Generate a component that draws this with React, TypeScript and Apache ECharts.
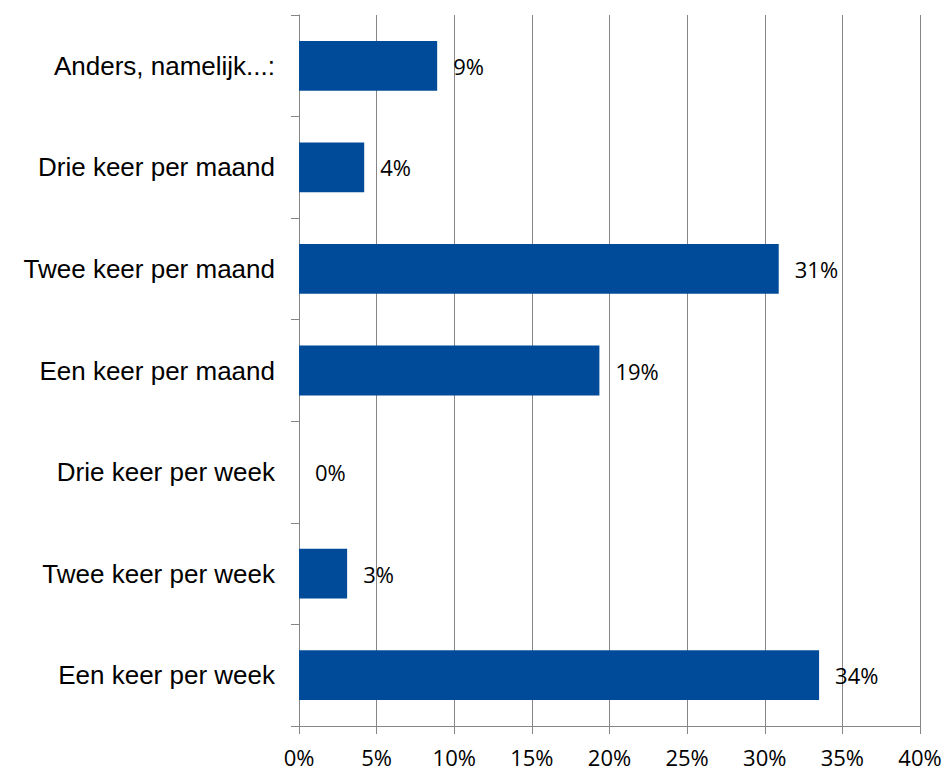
import React, { useEffect, useRef } from "react";
import * as echarts from "echarts";

const categories = [
  "Een keer per week",
  "Twee keer per week",
  "Drie keer per week",
  "Een keer per maand",
  "Twee keer per maand",
  "Drie keer per maand",
  "Anders, namelijk...:",
];
const values = [33.5, 3.1, 0, 19.35, 30.9, 4.2, 8.9];
const xTicks = { min: 0, max: 40, interval: 5 };

export default function App() {
  const ref = useRef<HTMLDivElement>(null);
  useEffect(() => {
    if (!ref.current) return;
    const chart = echarts.init(ref.current, null, { renderer: "svg" });
    chart.setOption({
      animation: false,
      grid: { left: 299, right: 25, top: 15, bottom: 47, containLabel: false },
      xAxis: {
        type: "value",
        min: xTicks.min,
        max: xTicks.max,
        interval: xTicks.interval,
        axisLine: { show: true, lineStyle: { color: "#868686", width: 1 } },
        axisTick: { show: true, length: 8, lineStyle: { color: "#868686" } },
        splitLine: { show: true, lineStyle: { color: "#868686", width: 1 } },
        axisLabel: {
          formatter: (v: number) => v + "%",
          fontFamily: "Open Sans",
          fontSize: 22,
          color: "#000",
          margin: 20,
        },
      },
      yAxis: {
        type: "category",
        data: categories,
        axisLine: { show: true, lineStyle: { color: "#868686", width: 1 } },
        axisTick: { show: true, length: 8, alignWithLabel: false, lineStyle: { color: "#868686" } },
        axisLabel: {
          fontFamily: "'Liberation Sans', Arial, sans-serif",
          fontSize: 26,
          color: "#000",
          margin: 24,
        },
      },
      series: [
        {
          type: "bar",
          data: values,
          barWidth: "49%",
          itemStyle: { color: "#004B99" },
          label: {
            show: true,
            position: "right",
            distance: 16,
            formatter: (p: any) => Math.round(p.value) + "%",
            fontFamily: "Open Sans",
            fontSize: 22,
            color: "#000",
          },
        },
      ],
    });
    return () => chart.dispose();
  }, []);
  return <div ref={ref} style={{ width: 945, height: 773, position: "absolute", left: 0, top: 0 }} />;
}
